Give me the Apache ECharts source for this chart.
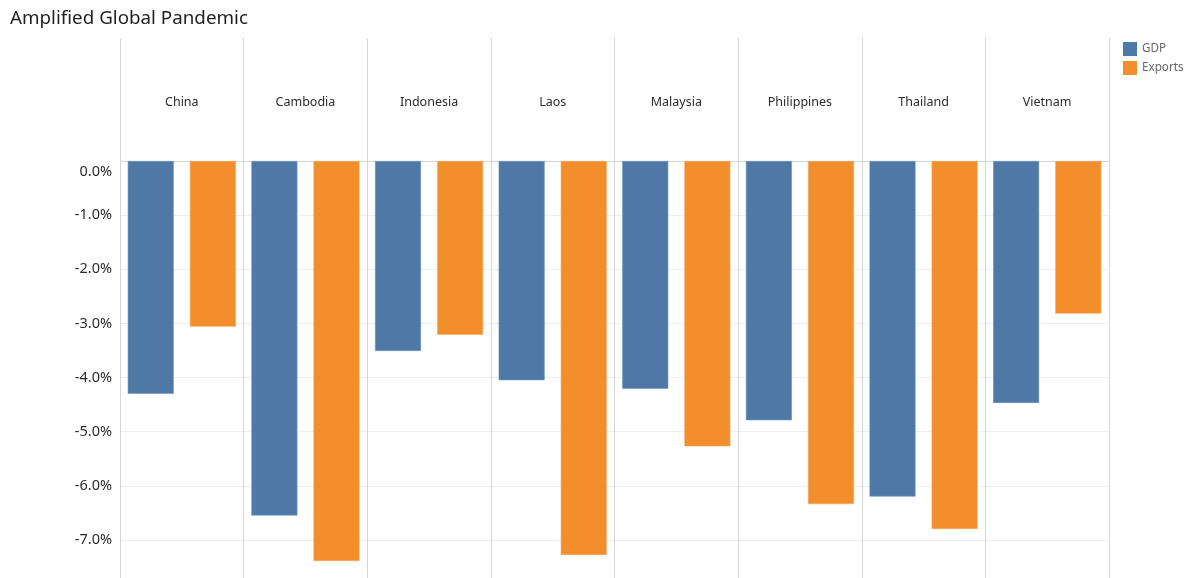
<!DOCTYPE html>
<html>
<head>
<meta charset="utf-8">
<title>Amplified Global Pandemic</title>
<script src="https://cdn.jsdelivr.net/npm/echarts@6/dist/echarts.min.js"></script>
<style>
  html, body { margin: 0; padding: 0; background: #ffffff; }
  #chart { width: 1190px; height: 578px; }
</style>
</head>
<body>
<div id="chart"></div>
<script>
// Projected change under the amplified global pandemic scenario (%)
const countries = ['China', 'Cambodia', 'Indonesia', 'Laos', 'Malaysia', 'Philippines', 'Thailand', 'Vietnam'];
const gdp     = [-4.30, -6.55, -3.51, -4.05, -4.21, -4.79, -6.20, -4.47];
const exportsChg = [-3.06, -7.39, -3.21, -7.28, -5.27, -6.34, -6.80, -2.82];
const yTicks = { min: -8, max: 0, step: 1 };

const FONT = '"Noto Sans", "Open Sans", sans-serif';
const SEP = '#d6d6d6';
const GRID = '#efefef';

const chart = echarts.init(document.getElementById('chart'), null, { renderer: 'canvas' });

chart.setOption({
  backgroundColor: '#ffffff',
  animation: false,
  textStyle: { fontFamily: FONT },
  title: {
    text: 'Amplified Global Pandemic',
    left: 10,
    top: 9,
    padding: 0,
    textStyle: { fontFamily: FONT, fontSize: 18.8, fontWeight: 'normal', color: '#1f1f1f' }
  },
  legend: {
    data: ['GDP', 'Exports'],
    orient: 'vertical',
    left: 1123,
    top: 42,
    padding: 0,
    itemWidth: 14,
    itemHeight: 14,
    itemGap: 5,
    icon: 'rect',
    itemStyle: { borderWidth: 0 },
    textStyle: { fontFamily: FONT, fontSize: 11.7, color: '#666666' }
  },
  grid: [
    // header band holding the country names
    { left: 120, right: 81, top: 38, height: 123, outerBoundsMode: 'none' },
    // main pane; its lowest band runs past the bottom edge of the page
    { left: 120, right: 81, top: 161, height: 433, outerBoundsMode: 'none' }
  ],
  xAxis: [
    {
      gridIndex: 0,
      type: 'category',
      data: countries,
      axisLine: { show: false },
      axisTick: { show: false },
      axisLabel: { show: false },
      splitLine: { show: true, lineStyle: { color: SEP, width: 1 } }
    },
    {
      gridIndex: 1,
      type: 'category',
      data: countries,
      position: 'top',
      axisLine: { show: true, lineStyle: { color: SEP, width: 1 } },
      axisTick: { show: false },
      axisLabel: {
        show: true,
        margin: 52,
        fontFamily: FONT,
        fontSize: 12.5,
        color: '#2b2b2b'
      },
      splitLine: { show: true, lineStyle: { color: SEP, width: 1 } }
    }
  ],
  yAxis: [
    {
      gridIndex: 0,
      type: 'value',
      min: 0,
      max: 1,
      show: false
    },
    {
      gridIndex: 1,
      type: 'value',
      min: yTicks.min,
      max: yTicks.max,
      interval: yTicks.step,
      axisLine: { show: false },
      axisTick: { show: false },
      splitLine: { show: true, lineStyle: { color: GRID, width: 1 } },
      axisLabel: {
        margin: 8,
        fontFamily: FONT,
        fontSize: 14.5,
        color: '#2b2b2b',
        formatter: function (v) {
          const s = v.toFixed(1) + '%';
          // the top label sits just under the pane edge
          return v === 0 ? '{z|' + s + '}' : s;
        },
        rich: {
          z: { fontFamily: FONT, fontSize: 14.5, color: '#2b2b2b', padding: [22, 0, 0, 0] }
        }
      }
    }
  ],
  series: [
    {
      name: 'GDP',
      type: 'bar',
      xAxisIndex: 1,
      yAxisIndex: 1,
      data: gdp,
      barWidth: 46,
      barGap: '35%',
      itemStyle: { color: '#4e79a7', borderColor: '#6f93bb', borderWidth: 0.6 }
    },
    {
      name: 'Exports',
      type: 'bar',
      xAxisIndex: 1,
      yAxisIndex: 1,
      data: exportsChg,
      barWidth: 46,
      barGap: '35%',
      itemStyle: { color: '#f28e2b', borderColor: '#f6a65a', borderWidth: 0.6 }
    }
  ]
});
</script>
</body>
</html>
